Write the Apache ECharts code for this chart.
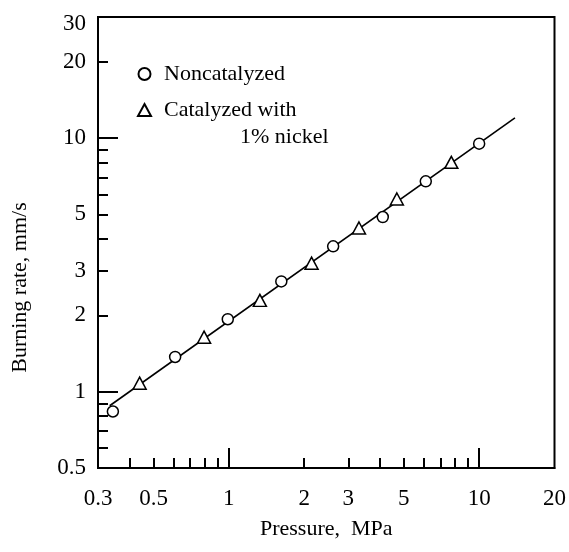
<!DOCTYPE html>
<html>
<head>
<meta charset="utf-8">
<script src="https://cdn.jsdelivr.net/npm/echarts@6/dist/echarts.min.js"></script>
<style>
html,body{margin:0;padding:0;background:#fff;}
#chart{width:569px;height:552px;}
</style>
</head>
<body>
<div id="chart"></div>
<script>
// ---- data ----
var noncatPressure = [0.344, 0.61, 0.99, 1.62, 2.61, 4.12, 6.12, 10.0];
var noncatRate     = [0.835, 1.37, 1.93, 2.72, 3.74, 4.88, 6.75, 9.5];
var catPressure    = [0.44, 0.796, 1.33, 2.14, 3.31, 4.69, 7.74];
var catRate        = [1.08, 1.64, 2.29, 3.21, 4.42, 5.75, 8.02];
var fitPressure    = [0.334, 13.9];
var fitRate        = [0.88, 12.0];

var xLabels      = [0.3, 0.5, 1, 2, 3, 5, 10, 20];
var xMinorTicks  = [0.4, 0.5, 0.6, 0.7, 0.8, 0.9, 2, 3, 4, 5, 6, 7, 8, 9];
var xMajorTicks  = [1, 10];
var yLabels      = [0.5, 1, 2, 3, 5, 10, 20, 30];
var yMinorTicks  = [0.6, 0.7, 0.8, 0.9, 2, 3, 4, 5, 6, 7, 8, 9, 20];
var yMajorTicks  = [1, 10];

function zip(a, b) { return a.map(function (v, i) { return [v, b[i]]; }); }

var FONT = 'Liberation Serif';
var chart = echarts.init(document.getElementById('chart'), null, {renderer: 'canvas'});

var lineStyleAxis = {color: '#000', width: 2};

chart.setOption({
  animation: false,
  backgroundColor: '#fff',
  grid: {left: 98, right: 11, top: 17, bottom: 84, show: true, borderColor: '#000', borderWidth: 2},
  legend: {
    orient: 'vertical',
    left: 132, top: 58,
    itemWidth: 13, itemHeight: 12,
    itemGap: 14,
    data: [{name: 'Noncatalyzed', icon: 'circle'}, {name: 'Catalyzed with', icon: 'triangle'}],
    textStyle: {fontFamily: FONT, fontSize: 22, color: '#000', padding: [0, 0, 0, 8]}
  },
  graphic: [{
    type: 'text', left: 240, top: 126,
    style: {text: '1% nickel', font: '22px "Liberation Serif"', fill: '#000'}
  }],
  xAxis: [{
    type: 'log', logBase: 10, min: 0.3, max: 20, position: 'bottom',
    name: 'Pressure,  MPa', nameLocation: 'middle', nameGap: 50,
    nameTextStyle: {fontFamily: FONT, fontSize: 22, color: '#000'},
    axisLine: {show: true, lineStyle: lineStyleAxis},
    axisTick: {show: true, inside: true, length: 10, customValues: xMinorTicks, lineStyle: lineStyleAxis},
    axisLabel: {show: true, customValues: xLabels, margin: 19, fontFamily: FONT, fontSize: 23, color: '#000',
      formatter: function (v) { return String(v); }},
    splitLine: {show: false}, minorTick: {show: false}
  }, {
    type: 'log', logBase: 10, min: 0.3, max: 20, position: 'bottom',
    axisLine: {show: false},
    axisTick: {show: true, inside: true, length: 20, customValues: xMajorTicks, lineStyle: lineStyleAxis},
    axisLabel: {show: false},
    splitLine: {show: false}
  }],
  yAxis: [{
    type: 'log', logBase: 10, min: 0.5, max: 30, position: 'left',
    name: 'Burning rate, mm/s', nameLocation: 'middle', nameGap: 67, nameRotate: 90,
    nameTextStyle: {fontFamily: FONT, fontSize: 22, color: '#000', padding: [0, 90, 0, 0]},
    axisLine: {show: true, lineStyle: lineStyleAxis},
    axisTick: {show: true, inside: true, length: 10, customValues: yMinorTicks, lineStyle: lineStyleAxis},
    axisLabel: {show: true, customValues: yLabels, margin: 12, fontFamily: FONT, fontSize: 23, color: '#000',
      formatter: function (v) { return v === 30 ? '{t|30}' : String(v); },
      rich: {t: {fontFamily: FONT, fontSize: 23, color: '#000', padding: [14, 0, 0, 0]}}},
    splitLine: {show: false}, minorTick: {show: false}
  }, {
    type: 'log', logBase: 10, min: 0.5, max: 30, position: 'left',
    axisLine: {show: false},
    axisTick: {show: true, inside: true, length: 20, customValues: yMajorTicks, lineStyle: lineStyleAxis},
    axisLabel: {show: false},
    splitLine: {show: false}
  }],
  series: [{
    name: 'fit', type: 'line', data: zip(fitPressure, fitRate),
    showSymbol: false, symbol: 'none', z: 1,
    lineStyle: {color: '#000', width: 1.6}
  }, {
    name: 'Noncatalyzed', type: 'scatter', data: zip(noncatPressure, noncatRate),
    symbol: 'circle', symbolSize: 11, z: 3,
    itemStyle: {color: '#fff', borderColor: '#000', borderWidth: 1.5, opacity: 1}
  }, {
    name: 'Catalyzed with', type: 'scatter', data: zip(catPressure, catRate),
    symbol: 'triangle', symbolSize: [13, 12], z: 3,
    itemStyle: {color: '#fff', borderColor: '#000', borderWidth: 1.5, opacity: 1}
  }]
});
</script>
</body>
</html>
